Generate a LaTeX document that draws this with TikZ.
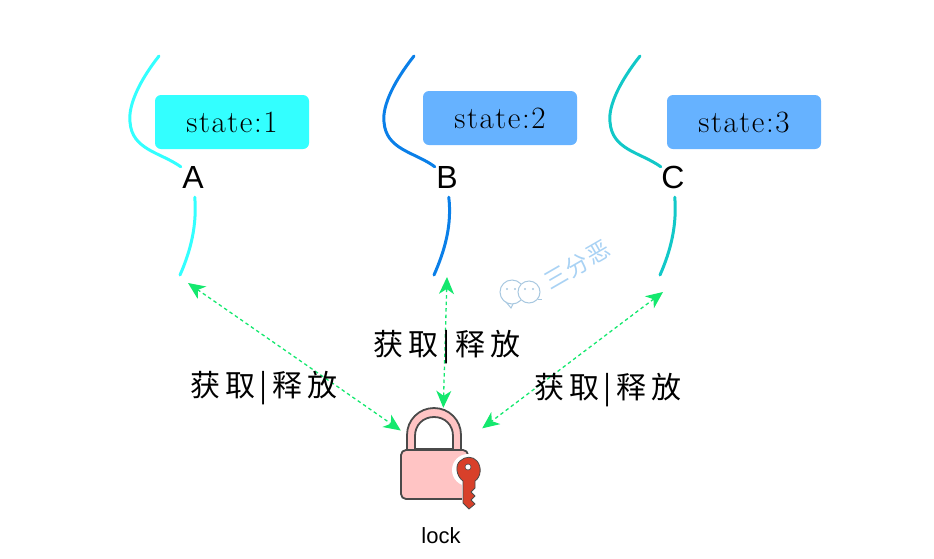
\documentclass[tikz,border=0pt]{standalone}
\usepackage{fontspec}
\setmainfont{Latin Modern Roman}
\newfontfamily\sansf{Liberation Sans}
\newfontfamily\statef[LetterSpace=5]{Latin Modern Roman}
\newfontfamily\cjklabel[LetterSpace=16]{Noto Sans CJK SC}
\newfontfamily\cjkmark[LetterSpace=6]{Noto Sans CJK SC}
\usetikzlibrary{arrows.meta}
\definecolor{cyanA}{HTML}{33FFFF}
\definecolor{blueB}{HTML}{66B2FF}
\definecolor{threadB}{HTML}{0A7FE8}
\definecolor{threadC}{HTML}{12C8C8}
\definecolor{arrowG}{HTML}{14E86E}
\definecolor{lockP}{HTML}{FFC4C4}
\definecolor{lockE}{HTML}{4A4A4A}
\definecolor{keyR}{HTML}{D8402A}
\definecolor{markB}{HTML}{A9D2F4}
\definecolor{markG}{HTML}{A8C8E0}
\tikzset{
  statebox/.style={rounded corners=6pt,minimum width=154pt,minimum height=54pt,inner sep=0pt,
    font=\statef\fontsize{31}{33}\selectfont},
  threadlabel/.style={minimum width=24pt,minimum height=40pt,inner sep=0pt,font=\sansf\fontsize{32}{34}\selectfont},
  threadline/.style={line width=3pt,line cap=round},
  syncarrow/.style={arrowG,line width=1.3pt,dash pattern=on 3.5pt off 3pt,
    {Stealth[length=17pt,width=15pt,inset=5pt]}-{Stealth[length=17pt,width=15pt,inset=5pt]}},
  oplabel/.style={font=\cjklabel\fontsize{30}{32}\selectfont,inner sep=0pt},
  lockshape/.style={fill=lockP,draw=lockE,line width=1.8pt,line join=round},
  markline/.style={draw=markG,line width=1pt}
}
\begin{document}
\begin{tikzpicture}[x=1pt,y=-1pt]
\useasboundingbox (0,0) rectangle (934,558);
% state boxes
\node[statebox,fill=cyanA] (s1) at (232,122) {\raisebox{-3.5pt}{state:1}};
\node[statebox,fill=blueB] (s2) at (500,118) {\raisebox{-3.5pt}{state:2}};
\node[statebox,fill=blueB] (s3) at (744,122) {\raisebox{-3.5pt}{state:3}};
% thread names
\node[threadlabel] (A) at (193,177) {A};
\node[threadlabel] (B) at (447,177) {B};
\node[threadlabel] (C) at (673,177) {C};
% free ends
\coordinate (a1) at (159,56);
\coordinate (a2) at (180,275);
\coordinate (b1) at (414,56);
\coordinate (b2) at (434,275);
\coordinate (c1) at (640,56);
\coordinate (c2) at (660,275);
\coordinate (a3) at (188,283);
\coordinate (b3) at (447,277);
\coordinate (c3) at (663,292);
% threads
\draw[threadline,cyanA] (a1) .. controls (140,80) and (128,105) .. (130,122)
  .. controls (132,150) and (160,152) .. (A.140);
\draw[threadline,cyanA] (A.-85) .. controls (197,225) and (191,250) .. (a2);
\draw[threadline,threadB] (b1) .. controls (395,80) and (382,105) .. (384,122)
  .. controls (386,150) and (415,152) .. (B.140);
\draw[threadline,threadB] (B.-85) .. controls (452,225) and (445,250) .. (b2);
\draw[threadline,threadC] (c1) .. controls (621,80) and (608,105) .. (610,122)
  .. controls (612,150) and (640,152) .. (C.140);
\draw[threadline,threadC] (C.-85) .. controls (677,225) and (671,250) .. (c2);
% lock
\node[minimum width=81pt,minimum height=102pt,inner sep=0pt] (lockbox) at (441.5,459) {};
\path[lockshape,even odd rule]
  (407,451) -- (407,435) .. controls (407,420) and (419,408) .. (434,408)
  .. controls (449,408) and (461,420) .. (461,435) -- (461,451) -- cycle
  (415,449) -- (415,436) .. controls (415,425) and (423,417) .. (434,417)
  .. controls (445,417) and (453,425) .. (453,436) -- (453,449) -- cycle;
\path[lockshape,rounded corners=5pt] (401,450) -- (468,450) -- (468,499) -- (401,499) -- cycle;
% key
\fill[white] (468,470) circle (16);
\fill[white] (462,480) rectangle (480,512);
\path[fill=keyR,draw=lockE,line width=0.8pt,line join=round]
  (463,481) .. controls (456,476) and (455,465) .. (460,461)
  .. controls (465,456) and (473,456) .. (477,461)
  .. controls (482,467) and (481,477) .. (475,481)
  -- (475,488) -- (471,492) -- (475,496) -- (471,500) -- (475,504) -- (469,509) -- (463,503) -- cycle;
\fill[white,draw=lockE,line width=0.6pt] (468,467) circle (3);
\node[inner sep=0pt,font=\sansf\fontsize{22}{24}\selectfont] (locklabel) at (441,536) {lock};
% arrows
\draw[syncarrow] (a3) -- (lockbox.145);
\draw[syncarrow] (b3) -- (lockbox.88);
\draw[syncarrow] (c3) -- (lockbox.37);
% labels
\node[oplabel] (l1) at (264,388) {获取|释放};
\node[oplabel] (l2) at (447,347) {获取|释放};
\node[oplabel] (l3) at (608,390) {获取|释放};
% watermark
\draw[markline] (512,292) circle (12);
\fill[white] (529,292) circle (11.5);
\draw[markline] (529,292) circle (11);
\draw[markline] (506,302) -- (511,308) -- (513,304);
\draw[markline] (538,299) -- (542,299);
\fill[markG] (507,289) circle (1.2) (515,289) circle (1.2) (525,289) circle (1.2) (533,289) circle (1.2);
\node[rotate=30,inner sep=0pt,text=markB,font=\cjkmark\fontsize{23}{25}\selectfont] (mark) at (577,265) {三分恶};
\end{tikzpicture}
\end{document}
